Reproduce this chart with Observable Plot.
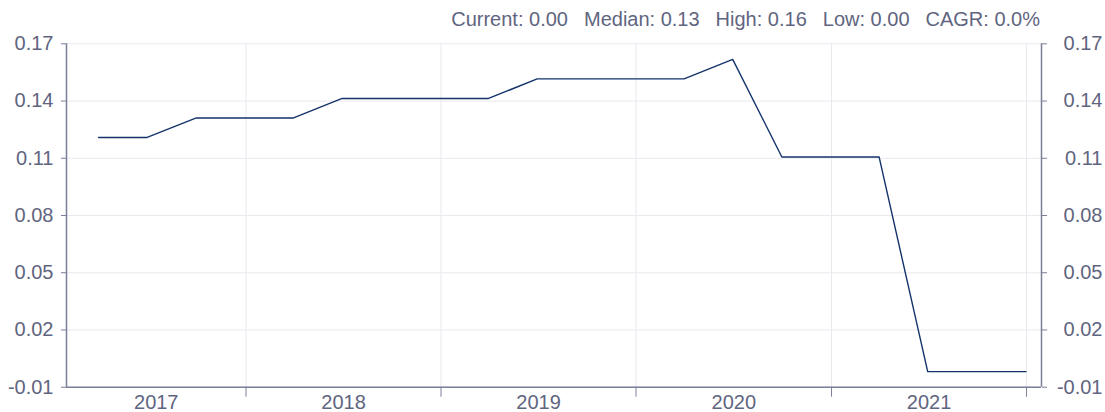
<!DOCTYPE html>
<html><head><meta charset="utf-8">
<script src="https://cdn.jsdelivr.net/npm/d3@7"></script>
<script src="https://cdn.jsdelivr.net/npm/@observablehq/plot@0.6"></script>
<style>
body{margin:0;background:#fff;font-family:"Liberation Sans",Arial,sans-serif;}
#wrap{position:relative;width:1105px;height:412px;}
#header{position:absolute;top:4px;right:65px;height:30px;line-height:30px;font-size:20px;color:#5f6580;white-space:nowrap;}
#header span{margin-left:16px}
</style></head><body>
<div id="wrap">
<div id="chart"></div>
<div id="header"></div>
</div>
<script>
// ---- data ----
const dates = ["2017-03-31","2017-06-30","2017-09-30","2017-12-31",
               "2018-03-31","2018-06-30","2018-09-30","2018-12-31",
               "2019-03-31","2019-06-30","2019-09-30","2019-12-31",
               "2020-03-31","2020-06-30","2020-09-30","2020-12-31",
               "2021-03-31","2021-06-30","2021-09-30","2021-12-31"];
const values = [0.12,0.12,0.13,0.13,
                0.13,0.14,0.14,0.14,
                0.14,0.15,0.15,0.15,
                0.15,0.16,0.11,0.11,
                0.11,0.00,0.00,0.00];
const years = [2017,2018,2019,2020,2021];
const statLabels = ["Current","Median","High","Low","CAGR"];
const statValues = ["0.00","0.13","0.16","0.00","0.0%"];

// ---- header ----
document.getElementById("header").innerHTML =
  statLabels.map((l,i)=>`<span>${l}: ${statValues[i]}</span>`).join("");

// ---- chart ----
const data = dates.map((d,i)=>({date:new Date(d+"T00:00:00Z"), value:values[i]}));
const xDomain = [new Date(Date.UTC(2017,0,30)), new Date(Date.UTC(2022,0,29))];
const yDomain = [-0.008, 0.168];
const yTicks = d3.range(7).map(i => yDomain[0] + i*(yDomain[1]-yDomain[0])/6);
const yearStarts = years.map(y => new Date(Date.UTC(y+1,0,1)));
const labelPos = years.map(y => {
  const a = Math.max(Date.UTC(y,0,1), +xDomain[0]);
  const b = Math.min(Date.UTC(y+1,0,1), +xDomain[1]);
  return new Date((a+b)/2);
});
const axisColor = "#7a7f99";
const textColor = "#5f6580";
const gridColor = "#e9e9f0";

const chart = Plot.plot({
  width: 1105, height: 412,
  marginLeft: 66, marginRight: 64, marginTop: 43.3, marginBottom: 25.3,
  style: {fontFamily: "'Liberation Sans', Arial, sans-serif", fontSize: "20px", color: textColor, background: "#fff"},
  x: {type: "utc", domain: xDomain},
  y: {domain: yDomain},
  marks: [
    Plot.gridY(yTicks, {stroke: gridColor, strokeOpacity: 1}),
    Plot.gridX(yearStarts, {stroke: gridColor, strokeOpacity: 1}),
    Plot.line(data, {x: "date", y: "value", stroke: "#13336a", strokeWidth: 1.4}),
    Plot.ruleY([yDomain[0]], {stroke: axisColor, strokeWidth: 1.5}),
    Plot.ruleX([xDomain[0]], {stroke: axisColor, strokeWidth: 1.5}),
    Plot.ruleX([xDomain[1]], {stroke: axisColor, strokeWidth: 1.5}),
    Plot.axisY(yTicks, {anchor: "left", tickSize: 5, tickPadding: 8, tickFormat: d => d.toFixed(2), label: null, fontSize: 20, stroke: axisColor, fill: textColor}),
    Plot.axisY(yTicks, {anchor: "right", tickSize: 5, tickPadding: 56, textAnchor: "end", tickFormat: d => d.toFixed(2), label: null, fontSize: 20, stroke: axisColor, fill: textColor}),
    Plot.axisX(yearStarts, {anchor: "bottom", tickSize: 10, tickFormat: () => "", label: null, stroke: axisColor}),
    Plot.axisX(labelPos, {anchor: "bottom", tickSize: 0, tickPadding: 8, tickFormat: d => String(d.getUTCFullYear()), label: null, fontSize: 20, fill: textColor})
  ]
});
document.getElementById("chart").appendChild(chart);
</script>
</body></html>
